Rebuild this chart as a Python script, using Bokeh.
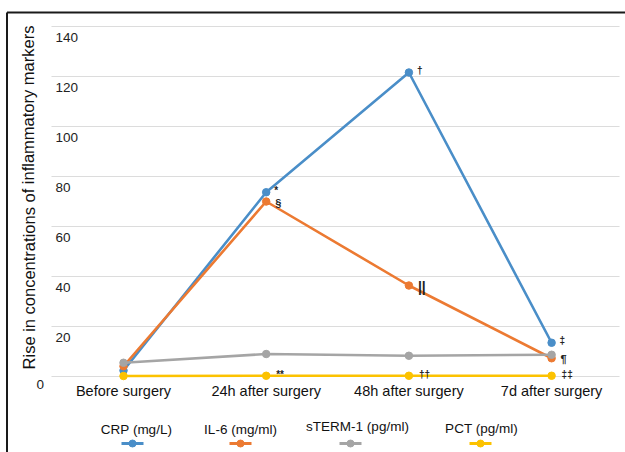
from bokeh.plotting import figure
from bokeh.models import Range1d, ColumnDataSource
from bokeh.core.properties import value
from bokeh.embed import file_html
from bokeh.resources import INLINE

# ---------------- data ----------------
categories = ["Before surgery", "24h after surgery", "48h after surgery", "7d after surgery"]
crp = [2.4, 73.7, 121.6, 13.5]
il6 = [4.1, 70.0, 36.4, 7.3]
strem = [5.5, 9.0, 8.3, 8.7]
pct = [0.2, 0.3, 0.3, 0.3]
series_names = ["CRP (mg/L)", "IL-6 (mg/ml)", "sTERM-1 (pg/ml)", "PCT (pg/ml)"]
crp_marks = ["", "*", "\u2020", "\u2021"]
il6_marks = ["", "\u00a7", "||", "\u00b6"]
pct_marks = ["", "**", "\u2020\u2020", "\u2021\u2021"]
y_ticks = [0, 20, 40, 60, 80, 100, 120, 140]
y_title = "Rise in concentrations of inflammatory markers"

# ---------------- layout ----------------
W, H = 625, 452
X0_PX, DX = 123.0, 142.7      # px of first category, px per category
Y0_PX, PPU = 376.0, 2.5       # px of y=0, px per unit


def fx(px):
    return (px - X0_PX) / DX


def fy(py):
    return (Y0_PX - py) / PPU


FONT = value("Liberation Sans")
colors = ["#4a8ec8", "#ec7a32", "#a5a5a5", "#fcc200"]

p = figure(width=W, height=H, output_backend="svg", toolbar_location=None,
           x_range=Range1d(fx(0), fx(W)), y_range=Range1d(fy(H), fy(0)),
           min_border=0, background_fill_color="white", border_fill_color="white")
p.axis.visible = False
p.grid.visible = False
p.outline_line_color = None

# gridlines
gx0, gx1 = fx(51), fx(619)
p.segment(x0=[gx0] * len(y_ticks), x1=[gx1] * len(y_ticks), y0=y_ticks, y1=y_ticks,
          line_color="#dcdcdc", line_width=1.2)

# y tick labels (inside, below gridline); 0 outside to the left
p.text(x=[fx(55)] * (len(y_ticks) - 1), y=y_ticks[1:], text=[str(t) for t in y_ticks[1:]],
       text_font=FONT, text_font_size="13.5px", text_color="#222222",
       text_align="left", text_baseline="middle", y_offset=11)
p.text(x=[fx(36)], y=[y_ticks[0]], text=[str(y_ticks[0])],
       text_font=FONT, text_font_size="13.5px", text_color="#222222",
       text_align="left", text_baseline="middle", y_offset=8)

# y title
p.text(x=[fx(28)], y=[fy(197)], text=[y_title], angle=1.5708,
       text_font=FONT, text_font_size="16.5px", text_color="#111111",
       text_align="center", text_baseline="middle")

# category labels
xs = list(range(len(categories)))
p.text(x=xs, y=[0] * len(xs), text=categories, text_font=FONT, text_font_size="14.5px",
       text_color="#111111", text_align="center", text_baseline="middle", y_offset=14)

# series
for vals, c in zip([crp, il6, strem, pct], colors):
    p.line(xs, vals, line_color=c, line_width=2.6)
    p.scatter(xs, vals, size=7.5, fill_color=c, line_color=c)

# significance marks
mark_style = dict(text_font=FONT, text_color="#222222", text_align="left",
                  text_baseline="middle")
p.text(x=xs, y=crp, text=crp_marks, text_font_size="10px", x_offset=8, y_offset=-2,
       text_font_style="bold", **mark_style)
il6_src = ColumnDataSource(dict(x=xs, y=il6, t=il6_marks,
                                fs=["11px", "11px", "14px", "11px"]))
p.text(x="x", y="y", text="t", source=il6_src, text_font_size="fs", x_offset=9, y_offset=1,
       text_font_style="bold", **mark_style)
p.text(x=xs, y=pct, text=pct_marks, text_font_size="10px", x_offset=10, y_offset=-1,
       text_font_style="bold", **mark_style)

# legend (text above, short line+marker below)
leg_text_x = [136, 240, 357, 481]
leg_text_y = [429, 429, 426, 428]
leg_mark_x = [132, 240, 350, 480]
leg_mark_y = 443
for name, c, tx, ty, mx in zip(series_names, colors, leg_text_x, leg_text_y, leg_mark_x):
    p.text(x=[fx(tx)], y=[fy(ty)], text=[name], text_font=FONT, text_font_size="13.5px",
           text_color="#111111", text_align="center", text_baseline="middle")
    p.segment(x0=[fx(mx - 11)], x1=[fx(mx + 11)], y0=[fy(leg_mark_y)], y1=[fy(leg_mark_y)],
              line_color=c, line_width=3)
    p.scatter([fx(mx)], [fy(leg_mark_y)], size=7, fill_color=c, line_color=c)

# frame lines (top and left only)
p.segment(x0=[fx(6.5)], x1=[fx(W)], y0=[fy(12)], y1=[fy(12)], line_color="#1a1a1a", line_width=2)
p.segment(x0=[fx(6.5)], x1=[fx(6.5)], y0=[fy(12)], y1=[fy(H)], line_color="#1a1a1a", line_width=2)

open("out.html", "w").write(file_html(p, INLINE))
